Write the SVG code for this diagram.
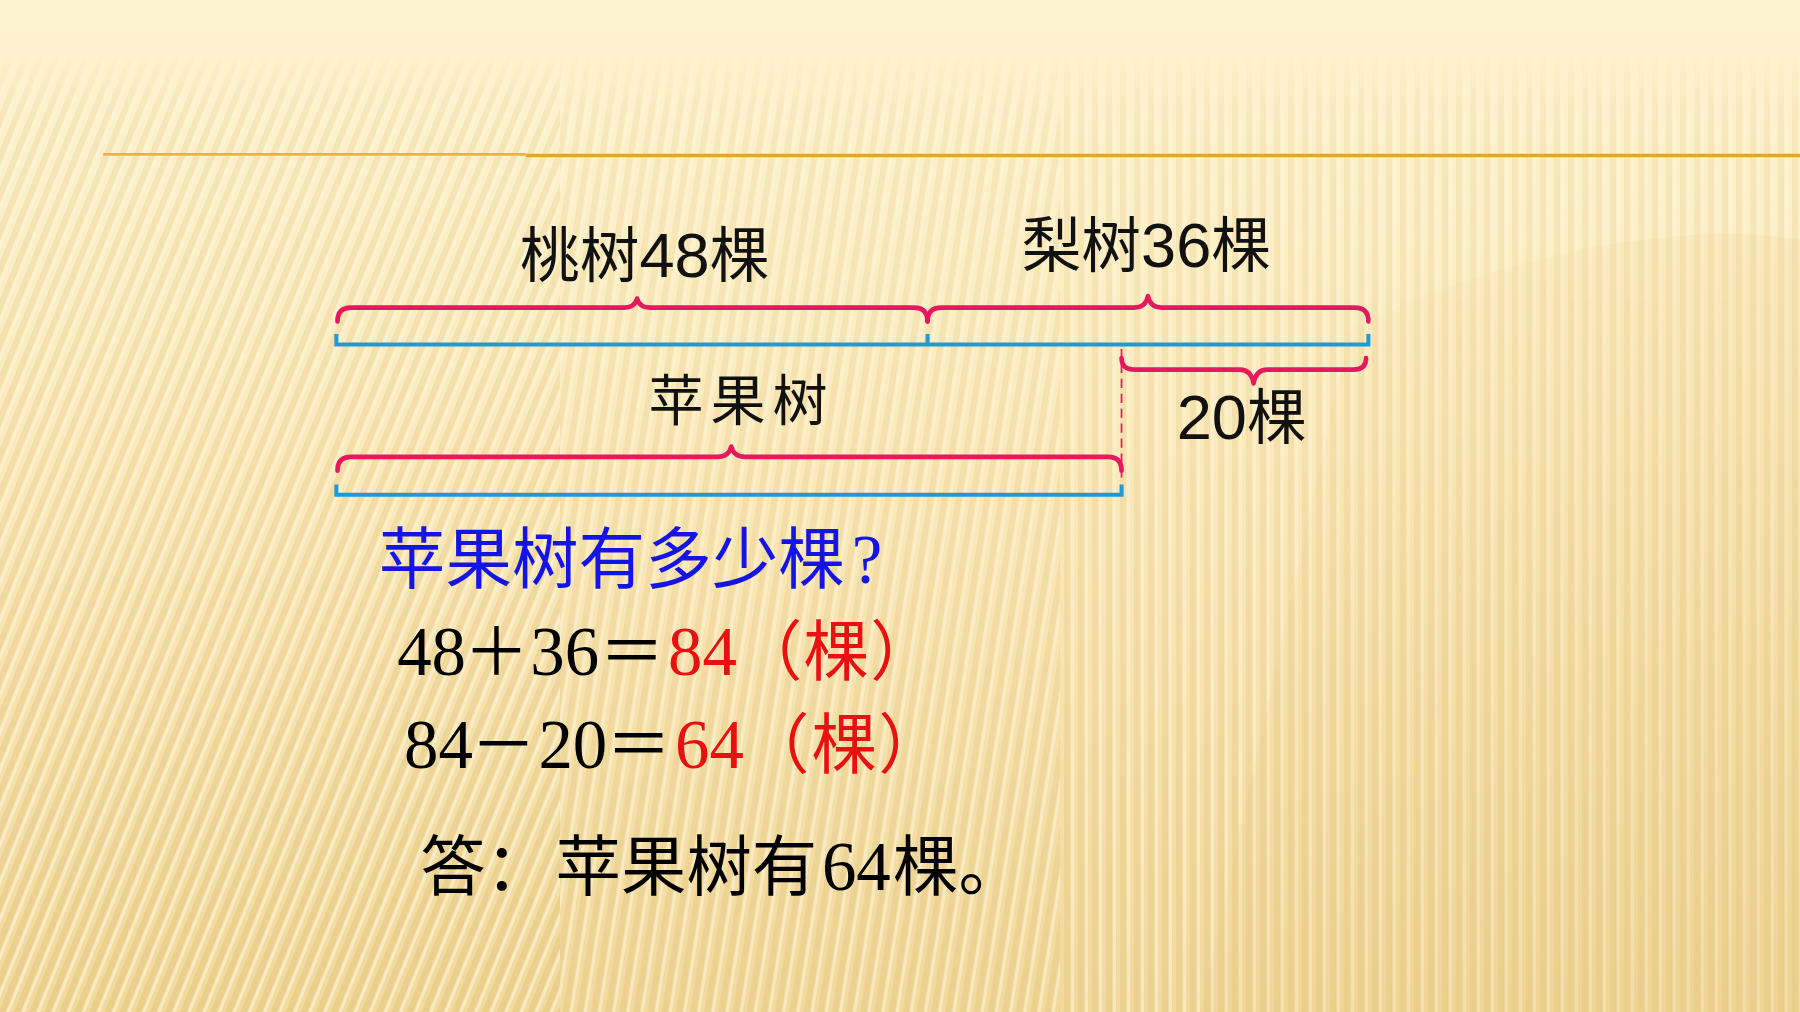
<svg xmlns="http://www.w3.org/2000/svg" width="1800" height="1012" viewBox="0 0 1800 1012">
<defs>
  <linearGradient id="bg" x1="0" y1="0" x2="0" y2="1">
    <stop offset="0" stop-color="#FEF3D0"/>
    <stop offset="0.4" stop-color="#FCEBBE"/>
    <stop offset="1" stop-color="#F2D99C"/>
  </linearGradient>
  <linearGradient id="fadeG" x1="0" y1="0" x2="0" y2="1">
    <stop offset="0.05" stop-color="#000"/>
    <stop offset="0.14" stop-color="#fff" stop-opacity="0.6"/>
    <stop offset="1" stop-color="#fff"/>
  </linearGradient>
  <mask id="fade"><rect width="1800" height="1012" fill="url(#fadeG)"/></mask>
  <pattern id="stripeL" width="14" height="40" patternUnits="userSpaceOnUse" patternTransform="rotate(22)">
    <rect x="0" y="0" width="6" height="40" fill="#D9B86A" opacity="0.32"/>
    <rect x="7" y="0" width="3" height="40" fill="#FFFBEA" opacity="0.5"/>
  </pattern>
  <pattern id="stripeM" width="14" height="40" patternUnits="userSpaceOnUse" patternTransform="rotate(9)">
    <rect x="0" y="0" width="6" height="40" fill="#D9B86A" opacity="0.26"/>
    <rect x="7" y="0" width="3" height="40" fill="#FFFBEA" opacity="0.45"/>
  </pattern>
  <pattern id="stripeR" width="14" height="40" patternUnits="userSpaceOnUse">
    <rect x="0" y="0" width="6" height="40" fill="#D9B86A" opacity="0.26"/>
    <rect x="7" y="0" width="3" height="40" fill="#FFFBEA" opacity="0.45"/>
  </pattern>
  <linearGradient id="shade" x1="0" y1="0" x2="1" y2="1">
    <stop offset="0" stop-color="#E8C880" stop-opacity="0"/>
    <stop offset="1" stop-color="#E8C880" stop-opacity="0.35"/>
  </linearGradient>
  <style>
    .brace{fill:none;stroke:#E6195E;stroke-width:4;stroke-linecap:round;stroke-linejoin:round}
    .bar{fill:none;stroke:#1C9BD9;stroke-width:3.5}
    .dash{fill:none;stroke:#E6195E;stroke-width:1.5;stroke-dasharray:8 5}
    .lbl{font-family:"Noto Sans CJK SC","Liberation Sans",sans-serif;font-size:52px;fill:#111}
    .lbl2{font-size:48px;letter-spacing:6px}
    .num{font-family:"Liberation Sans","Noto Sans CJK SC",sans-serif;font-size:55px}
    .big{font-family:"Noto Sans CJK SC",sans-serif;font-size:57px}
    .q{font-size:58px}
    .ser{font-family:"Liberation Serif","Noto Sans CJK SC",serif;font-size:60px}
    .blk{fill:#000}
    .red{fill:#E81010}
    .blu{fill:#1414E6}
  </style>
</defs>

<rect width="1800" height="1012" fill="url(#bg)"/>
<g mask="url(#fade)">
  <rect x="0" y="0" width="560" height="1012" fill="url(#stripeL)"/>
  <rect x="560" y="0" width="500" height="1012" fill="url(#stripeM)"/>
  <rect x="1060" y="0" width="740" height="1012" fill="url(#stripeR)"/>
</g>
<path d="M1350,330 C1500,250 1700,220 1800,240 L1800,1012 L1200,1012 Z" fill="url(#shade)"/>

<g transform="scale(1.14796)">
  <g id="header-rule">
    <line x1="90" y1="134.5" x2="458" y2="134.5" stroke="#EBAE50" stroke-width="2.5"/>
    <line x1="458" y1="135.5" x2="1568" y2="135.5" stroke="#E6A23A" stroke-width="3"/>
  </g>

  <g id="connectors">
    <path class="bar" d="M293,291 L293,300 L1192,300 L1192,291 M808,291 L808,300"/>
    <path class="bar" d="M293,422 L293,431 L977,431 L977,422"/>
    <path class="dash" d="M977,304 L977,421"/>
    <path class="brace" d="M294,280 Q294,268 306,268 L543,268 Q553,268 555,260 Q557,268 567,268 L796,268 Q808,268 808,280"/>
    <path class="brace" d="M808,280 Q808,268 820,268 L988,268 Q998,268 1000,258 Q1002,268 1012,268 L1180,268 Q1192,268 1192,280"/>
    <path class="brace" d="M977,312 Q977,322 989,322 L1080,322 Q1090,322 1092,334 Q1094,322 1104,322 L1179,322 Q1190,322 1190,312"/>
    <path class="brace" d="M294,410 Q294,398 306,398 L625,398 Q635,398 637,389 Q639,398 649,398 L965,398 Q977,398 977,410"/>
  </g>

  <g id="label-peach"><text class="lbl" x="453" y="241">桃树<tspan class="num">48</tspan>棵</text></g>
  <g id="label-pear"><text class="lbl" x="890" y="233">梨树<tspan class="num">36</tspan>棵</text></g>
  <g id="label-apple"><text class="lbl lbl2" x="565" y="366">苹果树</text></g>
  <g id="label-20"><text class="lbl" x="1025" y="382"><tspan class="num">20</tspan>棵</text></g>

  <g id="question"><text class="big q blu" x="330" y="508">苹果树有多少棵<tspan class="ser q" x="742">?</tspan></text></g>

  <g id="eq1">
    <text y="588">
      <tspan class="ser blk" x="346">48</tspan>
      <tspan class="big blk" x="404">＋</tspan>
      <tspan class="ser blk" x="462">36</tspan>
      <tspan class="big blk" x="522">＝</tspan>
      <tspan class="ser red" x="582">84</tspan>
      <tspan class="big red" x="642">（</tspan>
      <tspan class="big red" x="700">棵</tspan>
      <tspan class="big red" x="758">）</tspan>
    </text>
  </g>
  <g id="eq2">
    <text y="669">
      <tspan class="ser blk" x="352">84</tspan>
      <tspan class="big blk" x="410">－</tspan>
      <tspan class="ser blk" x="469">20</tspan>
      <tspan class="big blk" x="528">＝</tspan>
      <tspan class="ser red" x="588">64</tspan>
      <tspan class="big red" x="648">（</tspan>
      <tspan class="big red" x="707">棵</tspan>
      <tspan class="big red" x="765">）</tspan>
    </text>
  </g>
  <g id="answer">
    <text y="775">
      <tspan class="big blk" x="366">答：</tspan>
      <tspan class="big blk" x="484">苹果树有</tspan>
      <tspan class="ser blk" x="716">64</tspan>
      <tspan class="big blk" x="778">棵。</tspan>
    </text>
  </g>
</g>
</svg>
